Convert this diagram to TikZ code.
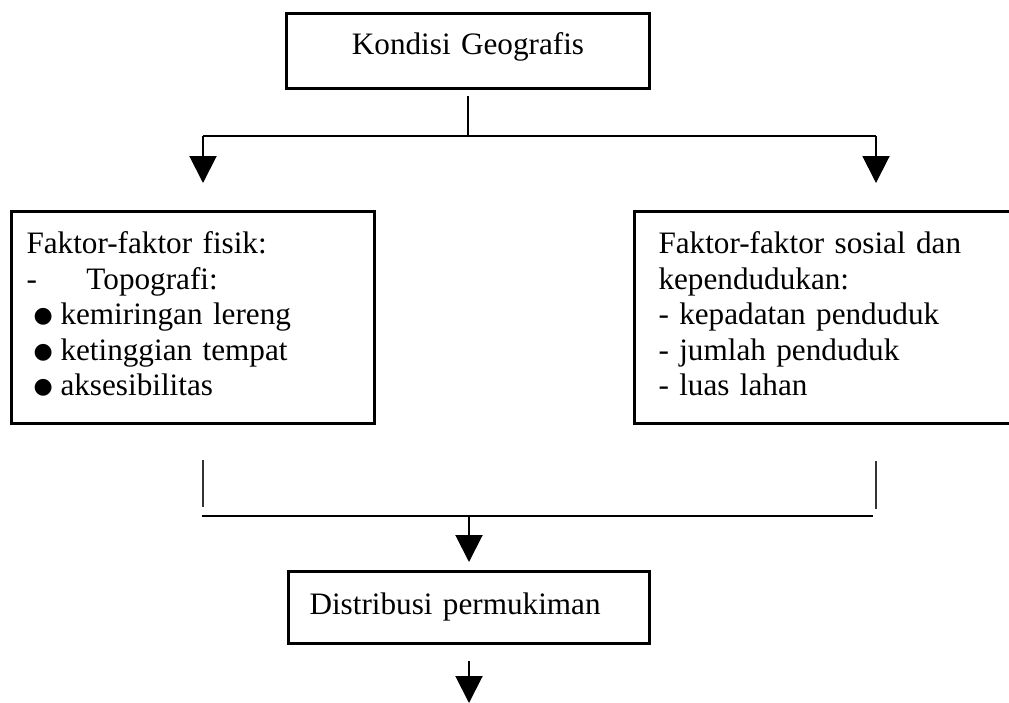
\documentclass[tikz,border=0pt]{standalone}
\usepackage{fontspec}
\setmainfont{Liberation Serif}
\newfontfamily\symfont{DejaVu Sans}
\usetikzlibrary{arrows.meta}
\newcommand{\bul}{\raisebox{2pt}{\symfont\fontsize{22}{22}\selectfont ●}}
\tikzset{
	box/.style={draw, line width=3pt, inner ysep=0pt, anchor=north west},
	conn/.style={line width=2pt},
	arr/.style={line width=2pt, -{Triangle[width=27pt,length=27pt]}},
	tick/.style={line width=1.6pt, black!80},
}
\begin{document}
\begin{tikzpicture}[x=1pt, y=-1pt, font=\fontsize{31.2}{35.5}\selectfont]
		\useasboundingbox (0,0) rectangle (1009,702);
		\node[box, inner xsep=0pt, text width=363pt, align=center, text height=41pt, text depth=34pt] (geo) at (285,12) {Kondisi Geografis};
		\node[box, inner xsep=15pt, text width=333pt, align=left, text height=42pt, text depth=170pt] (fisik) at (10,210) {Faktor-faktor fisik:\\
			\makebox[60pt][l]{-}Topografi:\\
			\makebox[34pt][l]{\hspace{7pt}\bul}kemiringan lereng\\
			\makebox[34pt][l]{\hspace{7pt}\bul}ketinggian tempat\\
			\makebox[34pt][l]{\hspace{7pt}\bul}aksesibilitas};
		\node[box, inner xsep=24pt, text width=334pt, align=left, text height=42pt, text depth=170pt] (sosial) at (633,210) {Faktor-faktor sosial dan\\
			kependudukan:\\
			- kepadatan penduduk\\
			- jumlah penduduk\\
			- luas lahan};
		\node[box, inner xsep=21pt, text width=319pt, align=left, text height=43pt, text depth=29pt] (dist) at (287,570) {Distribusi permukiman};
		% split below the top box
		\coordinate (lhook) at (203,136);
		\coordinate (rhook) at (876,136);
		\coordinate (ltip) at (203,183);
		\coordinate (rtip) at (876,183);
		\draw[conn] ([yshift=-6pt]geo.south) -- (geo.south |- lhook);
		\draw[conn] (lhook) -- (rhook);
		\draw[arr] (lhook) -- (ltip);
		\draw[arr] (rhook) -- (rtip);
		% join above the bottom box
		\coordinate (ltop) at (203,460);
		\coordinate (lbot) at (203,507);
		\coordinate (rtop) at (876,461);
		\coordinate (rbot) at (876,509);
		\coordinate (ljoin) at (202,516);
		\coordinate (rjoin) at (873,516);
		\draw[tick] (ltop) -- (lbot);
		\draw[tick] (rtop) -- (rbot);
		\draw[conn] (ljoin) -- (rjoin);
		\draw[arr] (dist.north |- ljoin) -- ([yshift=8pt]dist.north);
		\draw[arr] ([yshift=-16pt]dist.south) -- ++(0,42);
\end{tikzpicture}
\end{document}
